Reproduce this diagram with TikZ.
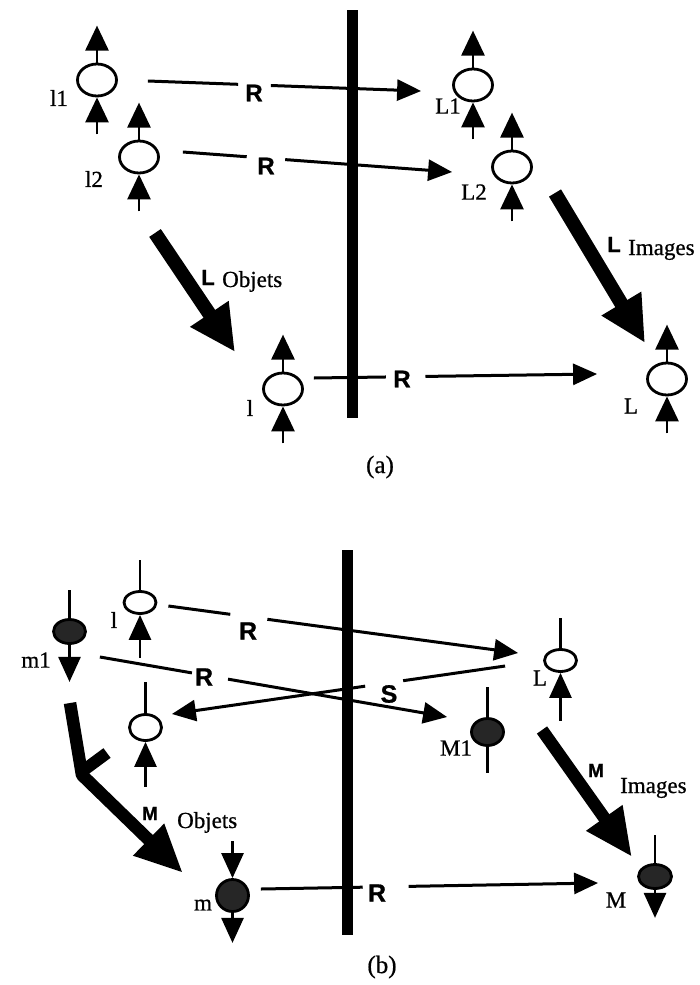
\documentclass[tikz,border=0pt]{standalone}
\usepackage{fontspec}
\setmainfont{Liberation Serif}
\newfontfamily\labserif{Liberation Serif}[FakeBold=0.7]
\newfontfamily\lsans{Liberation Sans}[FakeBold=1]
\usetikzlibrary{shapes.geometric,arrows.meta,calc}
\begin{document}
\begin{tikzpicture}[x=1pt,y=-1pt,
  oell/.style={ellipse, draw, line width=2.8pt, inner sep=0pt, minimum width=39pt, minimum height=32pt},
  fell/.style={oell, fill=black!85},
  sarr/.style={line width=2.8pt, -{Triangle[length=25pt,width=23pt]}},
  sarrb/.style={line width=2.8pt, -{Triangle[length=25pt,width=22pt]}},
  plain/.style={line width=2.8pt},
  rline/.style={line width=3pt},
  rarr/.style={line width=3pt, -{Triangle[length=24pt,width=21pt]}},
  big/.style={line width=14pt, -{Triangle[length=46pt,width=43pt]}},
  bigb/.style={line width=12.5pt, -{Triangle[length=48pt,width=41pt]}},
  lab/.style={font=\labserif\fontsize{23}{23}\selectfont, inner sep=0pt},
  blab/.style={font=\lsans\bfseries\fontsize{24}{24}\selectfont, inner sep=0pt},
  bar/.style={line width=11pt}
]
\useasboundingbox (0,0) rectangle (700,985);
\fill[white] (0,0) rectangle (700,985);

% ================= (a) =================
\draw[bar] (352,10) -- (352,418);

\node[oell] (l1) at (97,80) {};
\node[oell] (l2) at (139,157) {};
\node[oell] (L1) at (473,85) {};
\node[oell] (L2) at (512,167) {};
\node[oell] (l) at (283,389) {};
\node[oell] (L) at (667,379) {};

\node[lab] (tl1) at (59,98) {l1};
\node[lab] (tl2) at (94,179) {l2};
\node[lab] (tL1) at (448,106) {L1};
\node[lab] (tL2) at (474,192) {L2};
\node[lab] (tl) at (250,408) {l};
\node[lab] (tL) at (631,406) {L};

\foreach \n in {l1,l2,L1,L2,l,L}{
  \draw[sarr] (\n.north) -- ++(0,-37);
  \draw[sarr] ($(\n.south)+(0,37)$) -- (\n.south);
}

% R connectors
\coordinate (r1s) at ($(l1.east)+(30,1)$);
\coordinate (r1e) at ($(L1.west)+(-31,6)$);
\draw[rline] (r1s) -- ($(r1s)!0.33!(r1e)$);
\draw[rarr] ($(r1s)!0.45!(r1e)$) -- (r1e);
\node[blab] (R1) at (254,93) {R};

\coordinate (r2s) at ($(l2.east)+(23,-5)$);
\coordinate (r2e) at ($(L2.west)+(-39,5)$);
\draw[rline] (r2s) -- ($(r2s)!0.237!(r2e)$);
\draw[rarr] ($(r2s)!0.38!(r2e)$) -- (r2e);
\node[blab] (R2) at (266,166) {R};

\coordinate (r3s) at ($(l.east)+(10,-11)$);
\coordinate (r3e) at ($(L.west)+(-49,-5)$);
\draw[rline] (r3s) -- ($(r3s)!0.254!(r3e)$);
\draw[rarr] ($(r3s)!0.394!(r3e)$) -- (r3e);
\node[blab] (R3) at (402,379) {R};

% big arrows
\coordinate (lo1) at (155,233);
\coordinate (lo2) at (235,352);
\draw[big] (lo1) -- (lo2);
\node[blab, font=\lsans\bfseries\fontsize{22}{22}\selectfont, anchor=base] (tLo) at (208,285) {L};
\node[lab, anchor=base west] (tOb) at (222,287) {Objets};

\coordinate (li1) at (555,193);
\coordinate (li2) at (645,343);
\draw[big] (li1) -- (li2);
\node[blab, font=\lsans\bfseries\fontsize{22}{22}\selectfont, anchor=base] (tLi) at (614,252) {L};
\node[lab, anchor=base west] (tIm) at (628,255) {Images};

\node[lab, font=\labserif\fontsize{25}{25}\selectfont] (capa) at (380,467) {(a)};

% ================= (b) =================
\draw[bar] (347,550) -- (347,935);

\node[oell, minimum width=32pt, minimum height=22pt] (lb) at (140,602.5) {};
\node[fell, minimum width=32pt, minimum height=24pt] (m1) at (69.5,631.5) {};
\node[oell, minimum width=32pt, minimum height=26pt] (u) at (145.5,727.5) {};
\node[oell, minimum width=32pt, minimum height=22pt] (Lb) at (560.5,660.5) {};
\node[fell, minimum width=32pt, minimum height=27pt] (M1) at (487.5,732) {};
\node[fell, minimum width=32pt, minimum height=32pt] (m) at (232.5,895.5) {};
\node[fell, minimum width=33pt, minimum height=24pt] (M) at (655,876.5) {};

\node[lab] (tlb) at (114,620) {l};
\node[lab] (tm1) at (36,660) {m1};
\node[lab] (tLb) at (540,678) {L};
\node[lab] (tM1) at (456,748) {M1};
\node[lab] (tm) at (203,905) {m};
\node[lab] (tM) at (616,900) {M};

\draw[plain] (lb.north) -- ++(0,-30);
\draw[sarrb] ($(lb.south)+(0,43)$) -- (lb.south);
\draw[plain] (m1.north) -- ++(0,-28);
\draw[sarrb] (m1.south) -- ++(0,37);
\draw[plain] (u.north) -- ++(0,-31);
\draw[sarrb] ($(u.south)+(0,45)$) -- (u.south);
\draw[plain] (Lb.north) -- ++(0,-30);
\draw[sarrb] ($(Lb.south)+(0,48)$) -- (Lb.south);
\draw[plain] (M1.north) -- ++(0,-30);
\draw[plain] (M1.south) -- ++(0,26);
\draw[sarrb] ($(m.north)+(0,-37)$) -- (m.north);
\draw[sarrb] (m.south) -- ++(0,30);
\draw[plain] (M.north) -- ++(0,-28);
\draw[sarrb] (M.south) -- ++(0,28);

% connectors
\coordinate (b1s) at ($(lb.east)+(11,3.5)$);
\coordinate (b1e) at ($(Lb.west)+(-25,-7.5)$);
\draw[rline] (b1s) -- ($(b1s)!0.177!(b1e)$);
\draw[rarr] ($(b1s)!0.283!(b1e)$) -- (b1e);
\node[blab, font=\lsans\bfseries\fontsize{25}{25}\selectfont] (Rb1) at (248,631) {R};

\coordinate (b2s) at ($(m1.east)+(13,25.5)$);
\coordinate (b2e) at ($(M1.west)+(-23,-15)$);
\draw[rline] (b2s) -- ($(b2s)!0.265!(b2e)$);
\draw[rarr] ($(b2s)!0.369!(b2e)$) -- (b2e);
\node[blab, font=\lsans\bfseries\fontsize{25}{25}\selectfont] (Rb2) at (204,677) {R};

\coordinate (b3s) at ($(Lb.west)+(-38,5.5)$);
\coordinate (b3e) at ($(u.east)+(9,-13.5)$);
\draw[rline] (b3s) -- ($(b3s)!0.306!(b3e)$);
\draw[rarr] ($(b3s)!0.42!(b3e)$) -- (b3e);
\node[blab, font=\lsans\bfseries\fontsize{25}{25}\selectfont] (Sb) at (389,694) {S};

\coordinate (b4s) at ($(m.east)+(11,-6.5)$);
\coordinate (b4e) at ($(M.west)+(-39,6.5)$);
\draw[rline] (b4s) -- ($(b4s)!0.302!(b4e)$);
\draw[rarr] ($(b4s)!0.438!(b4e)$) -- (b4e);
\node[blab, font=\lsans\bfseries\fontsize{25}{25}\selectfont] (Rb4) at (377,893) {R};

% big arrows
\coordinate (mi1) at (542,730);
\coordinate (mi2) at (632,857);
\draw[bigb] (mi1) -- (mi2);
\node[blab, font=\lsans\bfseries\fontsize{19}{19}\selectfont, anchor=base] (tMi) at (596,777) {M};
\node[lab, anchor=base west] (tIb) at (620,793) {Images};

\coordinate (mo1) at (70,703);
\coordinate (mo2) at (82,775);
\coordinate (mo3) at (183,873);
\coordinate (mk1) at (84,770);
\coordinate (mk2) at (107,753);
\draw[line width=12pt] (mk1) -- (mk2);
\draw[bigb, line join=round] (mo1) -- (mo2) -- (mo3);
\node[blab, font=\lsans\bfseries\fontsize{19}{19}\selectfont, anchor=base] (tMo) at (150,820) {M};
\node[lab, anchor=base west] (tOb2) at (177,828) {Objets};

\node[lab, font=\labserif\fontsize{25}{25}\selectfont] (capb) at (382,967) {(b)};
\end{tikzpicture}
\end{document}
